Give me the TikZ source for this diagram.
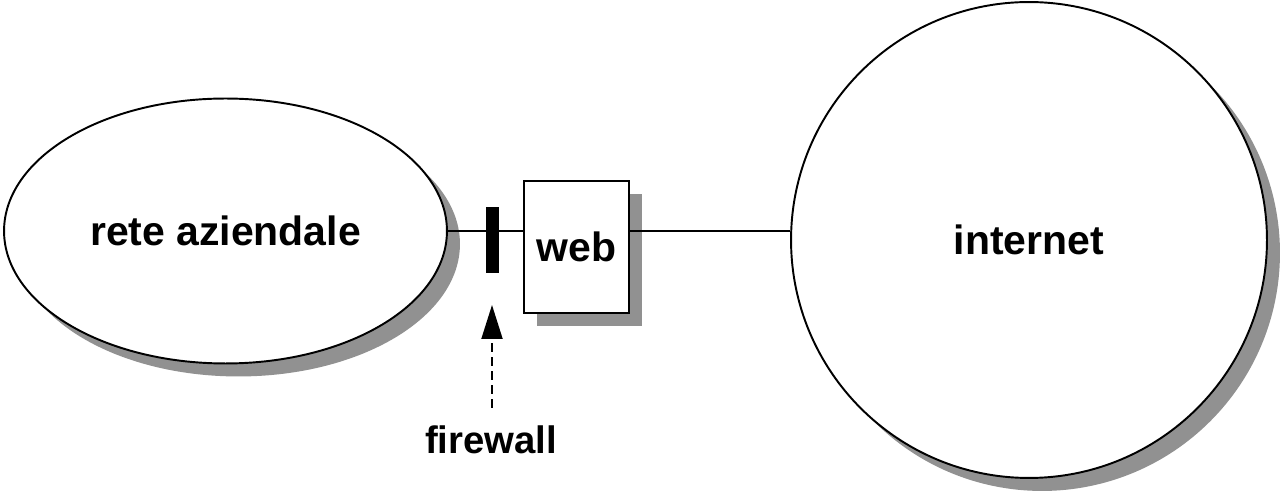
\documentclass[tikz,border=0pt]{standalone}
\usepackage{fontspec}
\setmainfont{Liberation Sans}
\usetikzlibrary{positioning}
\usetikzlibrary{shapes.geometric}
\usetikzlibrary{shadows}
\usetikzlibrary{arrows.meta}
\definecolor{shadowgray}{RGB}{145,145,145}
\tikzset{
	shaded/.style={draw, line width=1.1pt, fill=white, inner sep=0pt,
		drop shadow={shadow xshift=0.26cm, shadow yshift=-0.26cm, fill=shadowgray, opacity=1}},
	bigtext/.style={font=\fontsize{23.3}{28}\selectfont\bfseries},
	wire/.style={line width=1.1pt},
}

\begin{document}
\begin{tikzpicture}[x=0.02cm, y=-0.02cm]
		\useasboundingbox (0,0) rectangle (1287,492);
		\node[shaded, ellipse, minimum width=8.86cm, minimum height=5.3cm, bigtext] (lan) at (225.5,231) {rete aziendale};
		\node[shaded, rectangle, minimum width=2.1cm, minimum height=2.64cm, bigtext] (web) at (576.5,247) {web};
		\node[shaded, circle, minimum size=9.52cm, bigtext] (inet) at (1029,240) {internet};
		\draw[wire] (lan.east) -- (lan.east -| web.west);
		\draw[wire] (web.east |- lan.east) -- (inet.west |- lan.east);
		\node[fill=black, inner sep=0pt, minimum width=0.26cm, minimum height=1.32cm] (fw) at (492.5,240) {};
		\node[font=\fontsize{21.8}{26}\selectfont\bfseries] (fwlabel) at (491,440) {firewall};
		\coordinate (fwtip) at (492,305);
		\draw[wire, dash pattern=on 5pt off 3pt, -{Triangle[length=0.68cm, width=0.42cm]}] (fwlabel.north -| fwtip) ++(0,-12) -- (fwtip);
	\end{tikzpicture}
\end{document}
